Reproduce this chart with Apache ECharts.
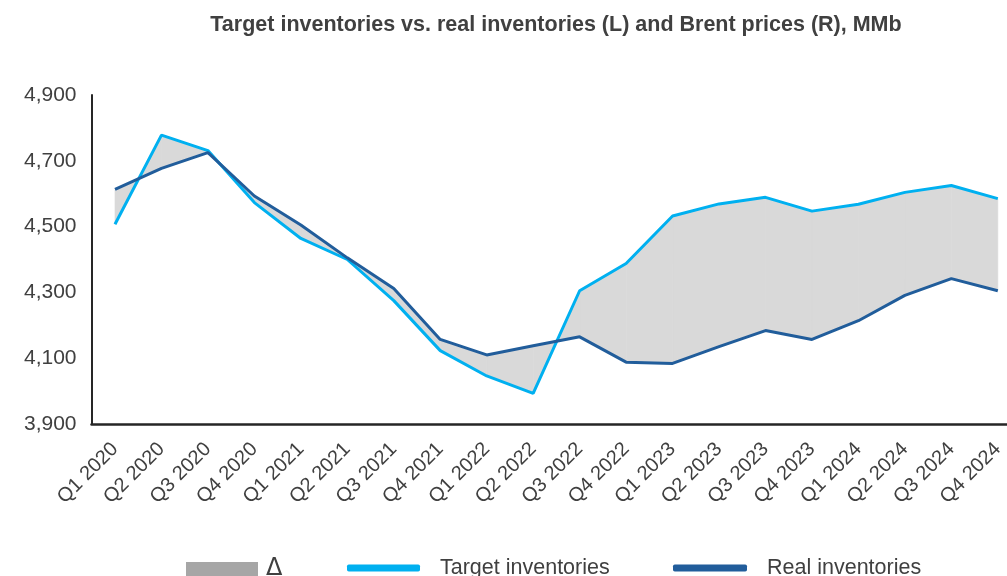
<!DOCTYPE html>
<html>
<head>
<meta charset="utf-8">
<script src="https://cdn.jsdelivr.net/npm/echarts@6/dist/echarts.min.js"></script>
<style>
  html, body { margin: 0; padding: 0; background: #fff; }
  #chart { width: 1007px; height: 576px; }
</style>
</head>
<body>
<div id="chart"></div>
<script>
// data (MMb)
var quarters = ['Q1 2020', 'Q2 2020', 'Q3 2020', 'Q4 2020',
                'Q1 2021', 'Q2 2021', 'Q3 2021', 'Q4 2021',
                'Q1 2022', 'Q2 2022', 'Q3 2022', 'Q4 2022',
                'Q1 2023', 'Q2 2023', 'Q3 2023', 'Q4 2023',
                'Q1 2024', 'Q2 2024', 'Q3 2024', 'Q4 2024'];
var targetInv = [4507, 4778, 4731, 4573, 4464, 4400, 4275, 4123, 4046, 3993,
                 4305, 4388, 4532, 4569, 4589, 4547, 4568, 4604, 4625, 4585];
var realInv = [4613, 4677, 4725, 4593, 4505, 4405, 4312, 4157, 4110, 4138,
               4165, 4088, 4084, 4135, 4184, 4157, 4214, 4291, 4342, 4305];
var yTickLabels = [3900, 4100, 4300, 4500, 4700, 4900];
var yMin = 3900, yMax = 4900;

var textColor = '#404040';
var fontFamily = 'Liberation Sans, Arial, sans-serif';

// one band segment per pair of neighbouring quarters
var bandData = [];
for (var i = 0; i < quarters.length - 1; i++) {
    bandData.push([i, targetInv[i], realInv[i], targetInv[i + 1], realInv[i + 1]]);
}

var myChart = echarts.init(document.getElementById('chart'));

var option = {
    animation: false,
    backgroundColor: '#ffffff',
    textStyle: { fontFamily: fontFamily },
    title: {
        text: 'Target inventories vs. real inventories (L) and Brent prices (R), MMb',
        left: 551,
        textAlign: 'center',
        top: 9,
        textStyle: { fontSize: 21.5, fontWeight: 'bold', color: textColor, fontFamily: fontFamily }
    },
    legend: [{
        left: 186, top: 557, padding: 0,
        itemWidth: 72, itemHeight: 14,
        data: [{ name: 'Δ', icon: 'rect', itemStyle: { color: '#a6a6a6' } }],
        textStyle: { fontSize: 24, color: textColor, fontFamily: 'DejaVu Sans', padding: [0, 0, 0, 3] }
    }, {
        left: 347, top: 557, padding: 0,
        itemWidth: 73, itemHeight: 7,
        data: [{ name: 'Target inventories', icon: 'roundRect', itemStyle: { color: '#00b0f0' } }],
        textStyle: { fontSize: 21.5, color: textColor, fontFamily: fontFamily, padding: [0, 0, 0, 15] }
    }, {
        left: 673, top: 557, padding: 0,
        itemWidth: 74, itemHeight: 7,
        data: [{ name: 'Real inventories', icon: 'roundRect', itemStyle: { color: '#215d9b' } }],
        textStyle: { fontSize: 21.5, color: textColor, fontFamily: fontFamily, padding: [0, 0, 0, 15] }
    }],
    // grid 0: axis frame (y axis on the left, x axis line to the edge)
    // grid 1: the plotted quarters, first and last point half a band in
    grid: [
        { left: 91.5, right: 0, top: 95, bottom: 152 },
        { left: 115, right: 8.5, top: 95, bottom: 152 }
    ],
    xAxis: [{
        gridIndex: 0,
        type: 'category',
        data: quarters,
        axisLine: { lineStyle: { color: '#262626', width: 2.5 } },
        axisTick: { show: false },
        axisLabel: { show: false },
        splitLine: { show: false }
    }, {
        gridIndex: 1,
        type: 'category',
        data: quarters,
        boundaryGap: false,
        axisLine: { show: false },
        axisTick: { show: false },
        axisLabel: {
            rotate: 45,
            margin: 22,
            interval: 0,
            fontSize: 20,
            color: textColor,
            fontFamily: fontFamily
        },
        splitLine: { show: false }
    }],
    yAxis: [{
        gridIndex: 0,
        type: 'value',
        min: yMin,
        max: yMax,
        interval: 100,
        axisLine: { show: true, lineStyle: { color: '#262626', width: 2 } },
        axisTick: { show: false },
        splitLine: { show: false },
        axisLabel: {
            margin: 15,
            fontSize: 21,
            color: textColor,
            fontFamily: fontFamily,
            formatter: function (v) {
                if (yTickLabels.indexOf(v) < 0) return '';
                return v.toLocaleString('en-US');
            }
        }
    }, {
        gridIndex: 1,
        type: 'value',
        min: yMin,
        max: yMax,
        show: false
    }],
    series: [{
        name: 'Δ',
        type: 'custom',
        xAxisIndex: 1,
        yAxisIndex: 1,
        z: 1,
        data: bandData,
        encode: { x: 0, y: [1, 2, 3, 4] },
        itemStyle: { color: '#d9d9d9' },
        renderItem: function (params, api) {
            var i = api.value(0);
            var a0 = api.coord([i, api.value(1)]);
            var a1 = api.coord([i + 1, api.value(3)]);
            var b1 = api.coord([i + 1, api.value(4)]);
            var b0 = api.coord([i, api.value(2)]);
            return {
                type: 'polygon',
                shape: { points: [a0, a1, b1, b0] },
                style: { fill: '#d9d9d9', stroke: '#d9d9d9', lineWidth: 0.6 }
            };
        }
    }, {
        name: 'Target inventories',
        type: 'line',
        xAxisIndex: 1,
        yAxisIndex: 1,
        z: 3,
        data: targetInv,
        symbol: 'none',
        lineStyle: { color: '#00b0f0', width: 3 },
        itemStyle: { color: '#00b0f0' }
    }, {
        name: 'Real inventories',
        type: 'line',
        xAxisIndex: 1,
        yAxisIndex: 1,
        z: 4,
        data: realInv,
        symbol: 'none',
        lineStyle: { color: '#215d9b', width: 3 },
        itemStyle: { color: '#215d9b' }
    }]
};

myChart.setOption(option);
</script>
</body>
</html>
